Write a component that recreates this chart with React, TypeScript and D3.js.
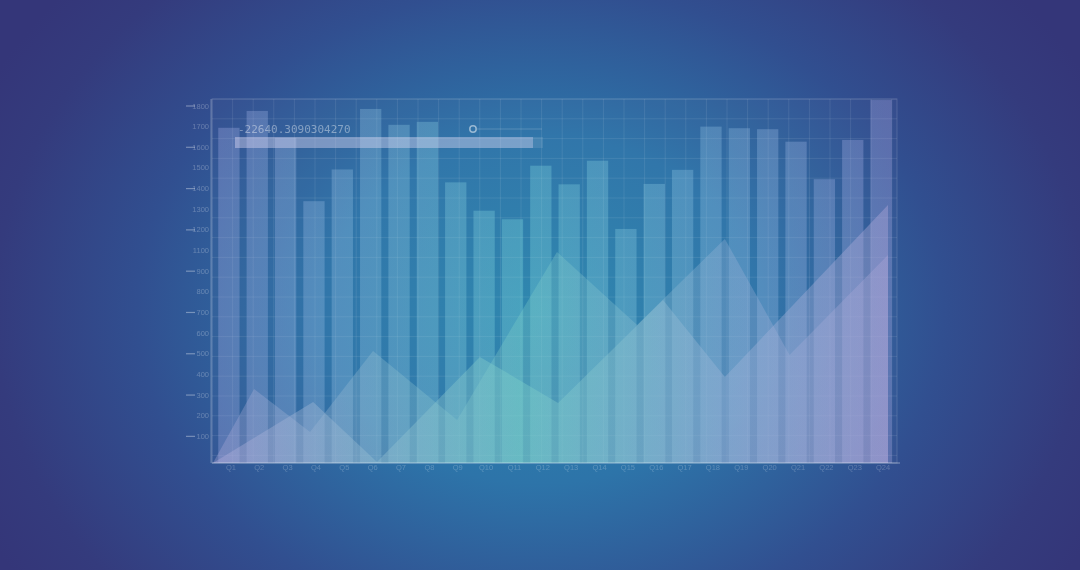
import React from "react";
import * as d3 from "d3";

// categories and bar heights
const quarters = ["Q1", "Q2", "Q3", "Q4", "Q5", "Q6", "Q7", "Q8", "Q9", "Q10", "Q11", "Q12",
  "Q13", "Q14", "Q15", "Q16", "Q17", "Q18", "Q19", "Q20", "Q21", "Q22", "Q23", "Q24"];
const barValues = [1690, 1775, 1640, 1320, 1480, 1785, 1705, 1720, 1415, 1272, 1229, 1499,
  1405, 1524, 1180, 1407, 1478, 1696, 1688, 1683, 1620, 1431, 1629, 1830];

// the two zig-zag areas: position along the quarter axis (0..24) and value
const backT = [0, 1.46, 3.45, 5.69, 8.68, 12.23, 15.08, 18.2, 20.5, 24];
const backValues = [0, 373, 156, 565, 217, 1064, 696, 1130, 545, 1049];
const frontT = [0, 3.56, 5.83, 9.49, 12.27, 16, 18.2, 24];
const frontValues = [0, 308, 5, 535, 303, 822, 434, 1301];

// y tick labels as printed (1000 is absent in the original)
const yTickLabels = ["1800", "1700", "1600", "1500", "1400", "1300", "1200", "1100", "900",
  "800", "700", "600", "500", "400", "300", "200", "100", ""];

const readout = "-22640.3090304270";

const W = 1080;
const H = 570;
const plot = { left: 212, right: 897, top: 99, bottom: 463 };

export default function App() {
  const x = d3.scaleBand<string>()
    .domain(quarters)
    .range([214, 896])
    .paddingInner(0.25)
    .paddingOuter(0.15);

  const y = d3.scaleLinear().domain([0, 1800]).range([plot.bottom, 106]);

  const t = d3.scaleLinear().domain([0, 24]).range([213, 888]);

  const yTicks = d3.scalePoint<string>().domain(yTickLabels).range([106, 457]);

  const area = d3.area<[number, number]>()
    .x((d) => t(d[0]))
    .y0(plot.bottom)
    .y1((d) => y(d[1]));

  const backPts = backT.map((tt, i) => [tt, backValues[i]] as [number, number]);
  const frontPts = frontT.map((tt, i) => [tt, frontValues[i]] as [number, number]);

  const gridX = d3.range(plot.left, plot.right, 20.6);
  const gridY = d3.range(plot.top, plot.bottom, 19.8);

  return (
    <svg width={W} height={H} style={{ position: "fixed", left: 0, top: 0 }}>
      <defs>
        <radialGradient id="bg" gradientUnits="userSpaceOnUse" cx={540} cy={310} r={620}
          gradientTransform="translate(540 310) scale(1 0.8) translate(-540 -310)">
          <stop offset="0" stopColor="#2b86ae" />
          <stop offset="0.35" stopColor="#2d74a9" />
          <stop offset="0.65" stopColor="#314f90" />
          <stop offset="0.88" stopColor="#343b7d" />
          <stop offset="1" stopColor="#343679" />
        </radialGradient>
        <linearGradient id="barGrad" gradientUnits="userSpaceOnUse" x1={212} x2={897} y1={0} y2={0}>
          <stop offset="0" stopColor="#b0b4ee" />
          <stop offset="0.45" stopColor="#86e2e2" />
          <stop offset="0.75" stopColor="#9cc8ea" />
          <stop offset="1" stopColor="#b8b2ee" />
        </linearGradient>
        <linearGradient id="areaGrad" gradientUnits="userSpaceOnUse" x1={212} x2={897} y1={0} y2={0}>
          <stop offset="0" stopColor="#b2acdc" />
          <stop offset="0.45" stopColor="#7cd0c8" />
          <stop offset="0.75" stopColor="#9cb4d8" />
          <stop offset="1" stopColor="#b4a8da" />
        </linearGradient>
      </defs>

      <rect width={W} height={H} fill="url(#bg)" />

      {/* plot frame and grid */}
      <rect x={plot.left} y={plot.top} width={plot.right - plot.left} height={plot.bottom - plot.top}
        fill="rgba(255,255,255,0.02)" stroke="rgba(255,255,255,0.14)" />
      {gridX.map((gx) => (
        <line key={"gx" + gx} x1={gx} x2={gx} y1={plot.top} y2={plot.bottom}
          stroke="rgba(255,255,255,0.09)" />
      ))}
      {gridY.map((gy) => (
        <line key={"gy" + gy} x1={plot.left} x2={plot.right} y1={gy} y2={gy}
          stroke="rgba(255,255,255,0.09)" />
      ))}

      {/* bars */}
      {quarters.map((q, i) => (
        <rect key={q} x={x(q)} y={y(barValues[i])} width={x.bandwidth()}
          height={plot.bottom - y(barValues[i])} fill="url(#barGrad)" fillOpacity={0.3} />
      ))}

      {/* areas */}
      <path d={area(backPts) || ""} fill="url(#areaGrad)" fillOpacity={0.32} />
      <path d={area(frontPts) || ""} fill="url(#areaGrad)" fillOpacity={0.4} />

      {/* axes */}
      <line x1={plot.left - 1} x2={plot.left - 1} y1={plot.top} y2={plot.bottom}
        stroke="rgba(255,255,255,0.28)" />
      <line x1={plot.left} x2={plot.right + 3} y1={plot.bottom} y2={plot.bottom}
        stroke="rgba(255,255,255,0.28)" strokeWidth={1.5} />
      {yTickLabels.map((lab, i) => (
        <g key={"yt" + i}>
          <text x={209} y={(yTicks(lab) as number) + 2.5} textAnchor="end" fontSize={7.5}
            fontFamily="Liberation Sans, sans-serif" fill="rgba(255,255,255,0.26)">{lab}</text>
          {i % 2 === 0 && (
            <line x1={186} x2={195} y1={yTicks(lab)} y2={yTicks(lab)}
              stroke="rgba(255,255,255,0.35)" strokeWidth={1.2} />
          )}
        </g>
      ))}
      {quarters.map((q) => (
        <text key={"xl" + q} x={(x(q) as number) + x.bandwidth() / 2 + 2} y={470} textAnchor="middle"
          fontSize={7.5} fontFamily="Liberation Sans, sans-serif" fill="rgba(255,255,255,0.22)">{q}</text>
      ))}

      {/* readout overlay */}
      <text x={238} y={133} fontSize={11} fontFamily="DejaVu Sans Mono, monospace"
        fill="rgba(255,255,255,0.4)">{readout}</text>
      <line x1={477} x2={542} y1={129} y2={129} stroke="rgba(255,255,255,0.18)" />
      <circle cx={473} cy={129} r={3.2} fill="none" stroke="rgba(255,255,255,0.5)" strokeWidth={1.5} />
      <rect x={235} y={137} width={298} height={11} fill="rgba(225,220,245,0.42)" />
      <rect x={533} y={137} width={10} height={11} fill="rgba(255,255,255,0.1)" />
    </svg>
  );
}
